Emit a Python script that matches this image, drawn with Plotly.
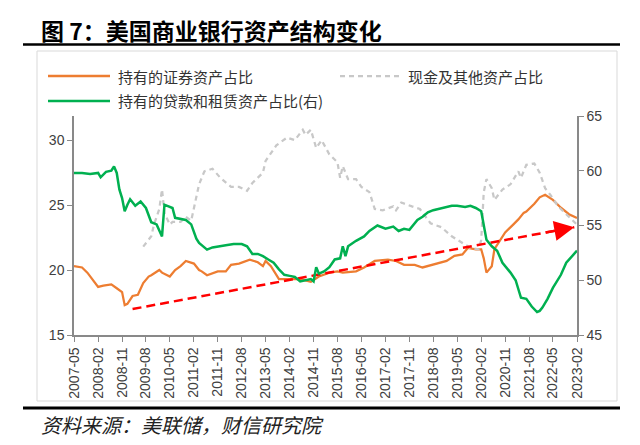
import plotly.graph_objects as go

# ---- data ----
x_ticks = ['2007-05', '2008-02', '2008-11', '2009-08', '2010-05', '2011-02', '2011-11',
           '2012-08', '2013-05', '2014-02', '2014-11', '2015-08', '2016-05', '2017-02',
           '2017-11', '2018-08', '2019-05', '2020-02', '2020-11', '2021-08', '2022-05', '2023-02']

# 持有的证券资产占比 (left axis, %)
sec_dates = ['2007-05', '2007-08', '2007-10', '2007-12', '2008-02', '2008-04', '2008-07', '2008-09',
             '2008-11', '2008-12', '2009-01', '2009-03', '2009-05', '2009-07', '2009-09', '2009-10',
             '2010-01', '2010-02', '2010-05', '2010-07', '2010-09', '2010-11', '2011-02', '2011-04',
             '2011-05', '2011-07', '2011-11', '2012-02', '2012-04', '2012-07', '2012-11', '2013-02',
             '2013-04', '2013-05', '2013-07', '2013-10', '2014-01', '2014-06', '2014-10', '2015-01',
             '2015-05', '2015-08', '2015-10', '2016-03', '2016-06', '2016-10', '2017-03', '2017-06',
             '2017-09', '2018-01', '2018-04', '2018-08', '2018-10', '2019-01', '2019-04', '2019-07',
             '2019-09', '2019-12', '2020-02', '2020-03', '2020-04', '2020-06', '2020-07', '2020-09',
             '2020-11', '2021-02', '2021-04', '2021-06', '2021-07', '2021-10', '2021-12', '2022-02',
             '2022-05', '2022-08', '2022-11', '2023-02']
sec_share = [20.3, 20.2, 19.8, 19.3, 18.7, 18.8, 18.9, 18.6,
             18.3, 17.3, 17.4, 18.0, 18.1, 19.0, 19.5, 19.6,
             20.0, 19.8, 19.5, 20.0, 20.3, 20.7, 20.5, 20.0,
             19.9, 19.6, 19.9, 19.9, 20.4, 20.5, 20.8, 20.6,
             20.3, 20.7, 20.3, 19.3, 19.3, 19.3, 19.1, 19.5,
             19.8, 19.9, 19.8, 19.9, 20.2, 20.7, 20.8, 20.7,
             20.4, 20.4, 20.2, 20.4, 20.5, 20.7, 21.1, 21.2,
             21.7, 21.6, 21.6, 20.9, 19.8, 20.3, 21.6, 22.3,
             22.9, 23.5, 23.9, 24.4, 24.5, 25.1, 25.6, 25.8,
             25.4, 24.8, 24.3, 24.0]

# 现金及其他资产占比 (left axis, %)
cash_dates = ['2009-07', '2009-10', '2009-11', '2010-01', '2010-02', '2010-03', '2010-05', '2010-06',
              '2010-09', '2010-11', '2011-01', '2011-03', '2011-04', '2011-06', '2011-09', '2011-12',
              '2012-04', '2012-07', '2012-10', '2012-12', '2013-04', '2013-05', '2013-09', '2014-01',
              '2014-04', '2014-07', '2014-08', '2014-10', '2014-12', '2015-02', '2015-05', '2015-08',
              '2015-09', '2015-10', '2015-12', '2016-03', '2016-05', '2016-08', '2016-10', '2017-01',
              '2017-05', '2017-06', '2017-08', '2017-12', '2018-03', '2018-07', '2018-11', '2019-03',
              '2019-06', '2019-10', '2020-01', '2020-02', '2020-03', '2020-04', '2020-06', '2020-07',
              '2020-10', '2021-01', '2021-04', '2021-05', '2021-07', '2021-10', '2021-12', '2022-02',
              '2022-04', '2022-07', '2022-10', '2023-02']
cash_share = [21.8, 22.6, 23.5, 24.7, 26.2, 24.4, 23.5, 23.7,
              23.7, 24.1, 23.8, 25.7, 26.6, 27.6, 27.8, 27.1,
              26.4, 26.4, 26.1, 26.7, 27.5, 28.4, 29.6, 30.2,
              30.0, 30.8, 30.4, 30.8, 29.4, 30.0, 28.9, 28.3,
              27.1, 28.0, 27.0, 27.0, 26.4, 26.0, 24.7, 24.6,
              24.9, 24.6, 25.2, 24.9, 24.7, 23.6, 23.3, 22.6,
              22.2, 21.7, 21.6, 22.3, 26.0, 27.0, 26.3, 25.4,
              26.2, 26.6, 27.6, 27.1, 28.1, 28.2, 27.5, 26.3,
              25.8, 24.9, 24.3, 23.5]

# 持有的贷款和租赁资产占比 (right axis, %)
loan_dates = ['2007-05', '2007-08', '2007-11', '2008-02', '2008-03', '2008-05', '2008-07', '2008-08',
              '2008-09', '2008-10', '2008-11', '2008-12', '2009-01', '2009-02', '2009-04', '2009-06',
              '2009-08', '2009-10', '2009-12', '2010-02', '2010-03', '2010-05', '2010-06', '2010-07',
              '2010-09', '2010-11', '2011-01', '2011-03', '2011-04', '2011-07', '2011-09', '2011-11',
              '2012-02', '2012-05', '2012-08', '2012-10', '2012-12', '2013-02', '2013-04', '2013-06',
              '2013-08', '2013-10', '2013-12', '2014-02', '2014-04', '2014-06', '2014-08', '2014-10',
              '2014-11', '2014-12', '2015-01', '2015-03', '2015-05', '2015-07', '2015-09', '2015-10',
              '2015-11', '2015-12', '2016-03', '2016-06', '2016-08', '2016-11', '2017-02', '2017-05',
              '2017-07', '2017-09', '2017-11', '2018-02', '2018-04', '2018-06', '2018-08', '2018-12',
              '2019-03', '2019-05', '2019-08', '2019-10', '2019-12', '2020-02', '2020-03', '2020-04',
              '2020-06', '2020-08', '2020-10', '2021-01', '2021-03', '2021-05', '2021-07', '2021-09',
              '2021-11', '2021-12', '2022-01', '2022-03', '2022-05', '2022-08', '2022-10', '2023-01',
              '2023-02']
loan_share = [59.8, 59.8, 59.7, 59.8, 59.4, 59.9, 60.0, 60.4,
              59.8, 58.3, 57.5, 56.3, 56.9, 57.4, 56.8, 57.2,
              56.6, 55.3, 55.1, 54.0, 56.9, 56.7, 56.6, 55.7,
              55.6, 55.5, 55.1, 53.8, 53.4, 52.8, 53.0, 53.1,
              53.2, 53.3, 53.3, 53.1, 52.4, 52.4, 52.2, 51.9,
              51.6, 51.0, 50.5, 50.4, 50.3, 49.9, 50.0, 50.1,
              49.9, 51.2, 50.6, 50.8, 51.2, 51.9, 52.0, 53.1,
              52.2, 53.1, 53.6, 54.0, 54.5, 55.0, 54.7, 54.9,
              54.5, 54.7, 54.6, 55.5, 55.8, 56.2, 56.4, 56.6,
              56.8, 56.8, 56.7, 56.8, 56.6, 56.3, 55.0, 53.7,
              53.1, 52.7, 51.6, 50.7, 50.0, 48.4, 48.3, 47.6,
              47.1, 47.2, 47.5, 48.3, 49.3, 50.5, 51.6, 52.5,
              52.7]

# trend arrow (left axis units)
trend_x = ['2009-03', '2023-01']
trend_y = [17.0, 23.3]

ORANGE = '#ED7D31'
GRAY = '#C8C8C8'
GREEN = '#00B050'
RED = '#FF0000'
AXIS = '#898989'
TICKFONT = dict(family='Liberation Sans, Arial', size=14, color='#404040')
CJK = 'Noto Sans CJK SC'

# plot area in page pixels: x 74..577, y 116..335
def px(x):
    return (x - 74) / 503

def py(y):
    return (335 - y) / 219

fig = go.Figure()

fig.add_trace(go.Scatter(x=sec_dates, y=sec_share, mode='lines', name='持有的证券资产占比',
                         line=dict(color=ORANGE, width=2.25)))
fig.add_trace(go.Scatter(x=cash_dates, y=cash_share, mode='lines', name='现金及其他资产占比',
                         line=dict(color=GRAY, width=2.25, dash='5px,4px')))
fig.add_trace(go.Scatter(x=loan_dates, y=loan_share, mode='lines', name='持有的贷款和租赁资产占比(右)',
                         line=dict(color=GREEN, width=2.5), yaxis='y2'))
fig.add_trace(go.Scatter(x=trend_x, y=trend_y, mode='lines', showlegend=False,
                         line=dict(color=RED, width=2.5, dash='9px,5px')))

annotations = [
    # arrowhead at the end of trend line
    dict(x=trend_x[1], y=trend_y[1], xref='x', yref='y', ax=-30, ay=5.6, showarrow=True,
         arrowhead=2, arrowsize=1.6, arrowwidth=2.5, arrowcolor=RED, text='', standoff=0),
    dict(x=px(39), y=py(30), xref='paper', yref='paper', xanchor='left', yanchor='middle',
         text='<b>图 7：美国商业银行资产结构变化</b>', showarrow=False,
         font=dict(family=CJK, size=23, color='#000000')),
    dict(x=px(39), y=py(424), xref='paper', yref='paper', xanchor='left', yanchor='middle',
         text='资料来源：美联储，财信研究院', showarrow=False,
         font=dict(family=CJK, size=20, color='#222222', style='italic')),
    dict(x=px(116), y=py(76), xref='paper', yref='paper', xanchor='left', yanchor='middle',
         text='持有的证券资产占比', showarrow=False, font=dict(family=CJK, size=15, color='#333333')),
    dict(x=px(406), y=py(76), xref='paper', yref='paper', xanchor='left', yanchor='middle',
         text='现金及其他资产占比', showarrow=False, font=dict(family=CJK, size=15, color='#333333')),
    dict(x=px(116), y=py(101), xref='paper', yref='paper', xanchor='left', yanchor='middle',
         text='持有的贷款和租赁资产占比(右)', showarrow=False, font=dict(family=CJK, size=15, color='#333333')),
]

shapes = [
    # title rule and bottom rule
    dict(type='line', xref='paper', yref='paper', x0=px(23), x1=px(620), y0=py(44.5), y1=py(44.5),
         line=dict(color='#000000', width=2.5)),
    dict(type='line', xref='paper', yref='paper', x0=px(23), x1=px(620), y0=py(408), y1=py(408),
         line=dict(color='#000000', width=3)),
    # chart frame
    dict(type='rect', xref='paper', yref='paper', x0=px(37), x1=px(617), y0=py(401), y1=py(51),
         line=dict(color='#D9D9D9', width=1)),
    # legend swatches
    dict(type='line', xref='paper', yref='paper', x0=px(48), x1=px(110), y0=py(76), y1=py(76),
         line=dict(color=ORANGE, width=2.5)),
    dict(type='line', xref='paper', yref='paper', x0=px(340), x1=px(400), y0=py(76), y1=py(76),
         line=dict(color=GRAY, width=2.25, dash='5px,4px')),
    dict(type='line', xref='paper', yref='paper', x0=px(48), x1=px(110), y0=py(101), y1=py(101),
         line=dict(color=GREEN, width=2.5)),
]

fig.update_layout(
    width=640, height=445,
    margin=dict(l=74, r=640 - 577, t=116, b=445 - 335),
    paper_bgcolor='white', plot_bgcolor='white',
    showlegend=False,
    annotations=annotations,
    shapes=shapes,
    xaxis=dict(type='date', range=['2007-05-01', '2023-02-01'],
               tickvals=x_ticks, ticktext=x_ticks, tickangle=-90,
               ticks='outside', ticklen=5, tickcolor=AXIS, tickfont=TICKFONT,
               showline=True, linecolor=AXIS, linewidth=1.5, showgrid=False, zeroline=False),
    yaxis=dict(range=[15, 31.86], tickvals=[15, 20, 25, 30],
               ticks='outside', ticklen=5, tickcolor=AXIS, tickfont=TICKFONT,
               showline=True, linecolor=AXIS, linewidth=1.5, showgrid=False, zeroline=False),
    yaxis2=dict(range=[45, 65], tickvals=[45, 50, 55, 60, 65], overlaying='y', side='right',
                ticks='outside', ticklen=5, tickcolor=AXIS, tickfont=TICKFONT,
                showline=True, linecolor=AXIS, linewidth=1.5, showgrid=False, zeroline=False),
)

# drop the default 8px page margin so the 640x445 figure fills the window exactly
fig.write_html("out.html", config={'displayModeBar': False},
               post_script="document.body.style.margin='0';")
